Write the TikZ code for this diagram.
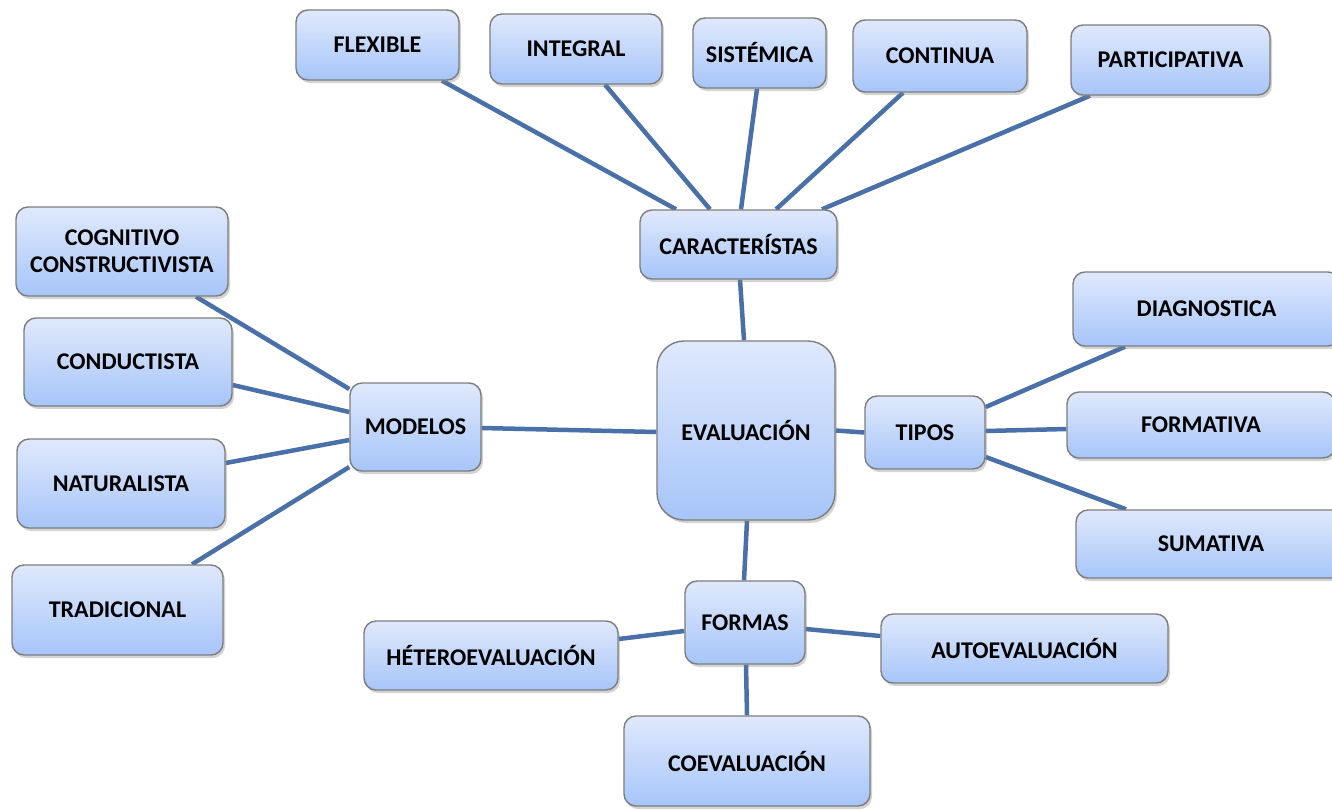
\documentclass[tikz,border=0pt]{standalone}
\usepackage{fontspec}
\setmainfont{Carlito}
\usetikzlibrary{shadows,backgrounds}
\definecolor{linkblue}{RGB}{74,112,170}
\definecolor{boxtop}{RGB}{224,233,252}
\definecolor{boxbottom}{RGB}{166,197,249}
\definecolor{boxedge}{RGB}{125,125,125}
\tikzset{
  box/.style={draw=boxedge, line width=1.4pt, rounded corners=12pt,
    top color=boxtop, bottom color=boxbottom, inner sep=0pt,
    align=center, font=\fontsize{24}{27}\selectfont\bfseries,
    drop shadow={opacity=0.35, shadow xshift=2pt, shadow yshift=-3pt}},
  link/.style={draw=linkblue, line width=4.5pt}
}
\begin{document}
\begin{tikzpicture}[x=1pt, y=-1pt]
\useasboundingbox (0,0) rectangle (1332,809);

% central concept
\node[box, rounded corners=27pt, minimum width=178pt, minimum height=179pt] (eval) at (746,430.5) {EVALUACIÓN};

% characteristics branch
\node[box, minimum width=197pt, minimum height=69pt] (car) at (738.5,244.5) {CARACTERÍSTAS};
\node[box, minimum width=163pt, minimum height=70pt] (flex) at (377.5,45) {FLEXIBLE};
\node[box, minimum width=172pt, minimum height=70pt] (integ) at (576,49) {INTEGRAL};
\node[box, minimum width=133pt, minimum height=70pt] (sist) at (759.5,53) {SISTÉMICA};
\node[box, minimum width=174pt, minimum height=72pt] (cont) at (940,56) {CONTINUA};
\node[box, minimum width=199pt, minimum height=70pt] (part) at (1170.5,60) {PARTICIPATIVA};

% models branch
\node[box, minimum width=131pt, minimum height=88pt] (mod) at (415.5,427) {MODELOS};
\node[box, minimum width=212pt, minimum height=89pt] (cog) at (122,251.5) {COGNITIVO\\CONSTRUCTIVISTA};
\node[box, minimum width=208pt, minimum height=88pt] (cond) at (128,362) {CONDUCTISTA};
\node[box, minimum width=208pt, minimum height=89pt] (nat) at (121,483.5) {NATURALISTA};
\node[box, minimum width=211pt, minimum height=90pt] (trad) at (117.5,610) {TRADICIONAL};

% types branch
\node[box, minimum width=120pt, minimum height=73pt] (tipos) at (925,432.5) {TIPOS};
\node[box, minimum width=267pt, minimum height=74pt] (diag) at (1206.5,309) {DIAGNOSTICA};
\node[box, minimum width=268pt, minimum height=66pt] (form) at (1201,425) {FORMATIVA};
\node[box, minimum width=270pt, minimum height=68pt] (sum) at (1211,544) {SUMATIVA};

% forms branch
\node[box, minimum width=120pt, minimum height=83pt] (formas) at (745,622.5) {FORMAS};
\node[box, minimum width=254pt, minimum height=69pt] (het) at (491,655.5) {HÉTEROEVALUACIÓN};
\node[box, minimum width=287pt, minimum height=69pt] (auto) at (1024.5,648.5) {AUTOEVALUACIÓN};
\node[box, minimum width=246pt, minimum height=90pt] (coev) at (747,761) {COEVALUACIÓN};

\begin{scope}[on background layer]
  % characteristics
  \draw[link] ([shift={(64.5,0)}]flex.south) -- ([shift={(-62.5,0)}]car.north);
  \draw[link] ([shift={(29,0)}]integ.south) -- ([shift={(-28.5,0)}]car.north);
  \draw[link] ([shift={(-2.5,0)}]sist.south) -- ([shift={(2.5,0)}]car.north);
  \draw[link] ([shift={(-37,0)}]cont.south) -- ([shift={(37.5,0)}]car.north);
  \draw[link] ([shift={(-80.5,0)}]part.south) -- ([shift={(83.5,0)}]car.north);
  \draw[link] ([shift={(1.5,0)}]car.south) -- ([shift={(-2,0)}]eval.north);
  % models
  \draw[link] ([shift={(74,0)}]cog.south) -- ([shift={(0,-38)}]mod.west);
  \draw[link] ([shift={(0,23)}]cond.east) -- ([shift={(0,-15)}]mod.west);
  \draw[link] ([shift={(0,-20.5)}]nat.east) -- ([shift={(0,13)}]mod.west);
  \draw[link] ([shift={(74.5,0)}]trad.north) -- ([shift={(0,40)}]mod.west);
  \draw[link] ([shift={(0,1)}]mod.east) -- ([shift={(0,1.5)}]eval.west);
  % types
  \draw[link] (eval.east) -- (tipos.west);
  \draw[link] ([shift={(0,-25.5)}]tipos.east) -- ([shift={(-81.5,0)}]diag.south);
  \draw[link] ([shift={(0,-1.5)}]tipos.east) -- ([shift={(0,4)}]form.west);
  \draw[link] ([shift={(0,24.5)}]tipos.east) -- ([shift={(-85,0)}]sum.north);
  % forms
  \draw[link] ([shift={(1,0)}]eval.south) -- ([shift={(-1,0)}]formas.north);
  \draw[link] ([shift={(0,8.5)}]formas.west) -- ([shift={(0,-16.5)}]het.east);
  \draw[link] ([shift={(0,6.5)}]formas.east) -- ([shift={(0,-12.5)}]auto.west);
  \draw[link] ([shift={(1,0)}]formas.south) -- (coev.north);
\end{scope}
\end{tikzpicture}
\end{document}
